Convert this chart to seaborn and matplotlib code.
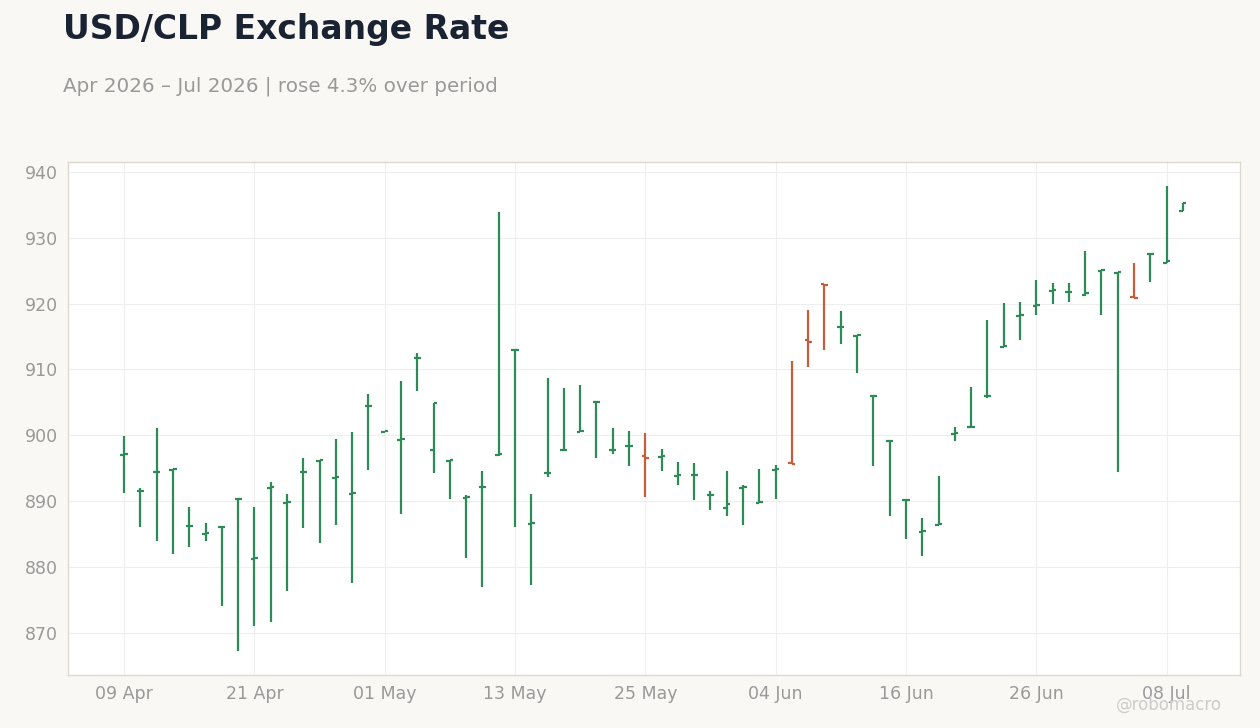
import numpy as np
import pandas as pd
import seaborn as sns
import matplotlib.pyplot as plt

# daily OHLC, business days from 09 Apr 2026
dates = pd.bdate_range('2026-04-09', periods=66)
opens = [897.0, 891.5, 894.4, 894.8, 886.2, 885.0, 886.0, 890.3, 881.2, 892.0,
         889.7, 894.4, 896.1, 893.5, 891.1, 904.4, 900.5, 899.3, 911.7, 897.7,
         896.1, 890.5, 892.1, 897.0, 912.9, 886.6, 894.2, 897.7, 900.5, 905.0,
         897.7, 898.3, 896.9, 896.7, 893.8, 893.9, 890.9, 888.9, 892.0, 889.7,
         894.8, 895.8, 914.4, 923.0, 916.4, 915.1, 905.9, 899.1, 890.1, 885.3,
         886.4, 900.2, 901.2, 905.9, 913.4, 918.1, 919.7, 921.9, 921.7, 921.3,
         925.0, 924.7, 921.0, 927.5, 926.2, 934.0]
highs = [899.9, 892.0, 901.1, 894.9, 889.1, 886.7, 886.1, 890.4, 889.1, 892.9,
         891.1, 896.6, 896.2, 899.5, 900.5, 906.3, 900.7, 908.3, 912.5, 904.9,
         896.2, 890.9, 894.6, 933.9, 913.0, 891.1, 908.7, 907.2, 907.7, 905.1,
         901.1, 900.7, 900.3, 897.9, 896.0, 895.8, 891.6, 894.6, 892.4, 894.9,
         895.5, 911.3, 919.0, 923.0, 918.9, 915.2, 906.0, 899.2, 890.2, 887.5,
         893.8, 901.3, 907.4, 917.5, 920.1, 920.3, 923.6, 923.1, 923.1, 928.0,
         925.1, 924.8, 926.1, 927.7, 937.9, 935.3]
lows = [891.3, 886.0, 884.0, 881.9, 883.0, 883.9, 874.1, 867.2, 871.0, 871.7,
        876.4, 885.9, 883.7, 886.4, 877.6, 894.8, 900.5, 888.0, 906.8, 894.3,
        890.4, 881.3, 877.0, 896.8, 886.0, 877.2, 893.6, 897.7, 900.5, 896.6,
        897.2, 895.4, 890.7, 894.6, 892.5, 890.1, 888.7, 887.7, 886.4, 889.7,
        890.4, 895.6, 910.4, 912.9, 913.9, 909.4, 895.4, 887.8, 884.3, 881.6,
        886.4, 899.1, 901.2, 905.7, 913.4, 914.4, 918.3, 919.9, 920.2, 921.2,
        918.2, 894.5, 920.8, 923.2, 926.2, 934.0]
closes = [897.2, 891.6, 894.5, 894.9, 886.3, 885.1, 886.1, 890.4, 881.3, 892.1,
          889.8, 894.5, 896.2, 893.6, 891.2, 904.5, 900.6, 899.4, 911.8, 904.9,
          896.2, 890.6, 892.2, 897.2, 913.0, 886.7, 894.3, 897.8, 900.6, 905.1,
          897.8, 898.4, 896.6, 896.8, 893.9, 894.0, 891.0, 889.6, 892.1, 889.8,
          894.9, 895.6, 914.2, 922.8, 916.5, 915.2, 906.0, 899.2, 890.2, 885.4,
          886.5, 900.3, 901.3, 906.0, 913.5, 918.2, 919.8, 922.0, 921.8, 921.6,
          925.1, 924.8, 920.8, 927.6, 926.5, 935.3]

df = pd.DataFrame({'date': dates, 'open': opens, 'high': highs,
                   'low': lows, 'close': closes})
df['i'] = np.arange(len(df))
up_col, down_col = '#2e8b57', '#c65d3b'
df['color'] = np.where(df['close'] >= df['open'], up_col, down_col)

sns.set_theme(style='whitegrid')
plt.rcParams['font.family'] = ['DejaVu Sans']

fig = plt.figure(figsize=(12.6, 7.28), dpi=100, facecolor='#f9f8f5')
ax = fig.add_axes([0.054, 0.0728, 0.930, 0.7047])
ax.set_facecolor('white')

# high-low bars with open (left) and close (right) ticks
w = 0.22
ax.vlines(df['i'], df['low'], df['high'], colors=df['color'], lw=1.6)
ax.hlines(df['open'], df['i'] - w, df['i'], colors=df['color'], lw=1.6)
ax.hlines(df['close'], df['i'], df['i'] + w, colors=df['color'], lw=1.6)

ax.set_xlim(-3.44, 68.5)
ax.set_ylim(863.6, 941.5)
ticks = np.arange(0, len(df), 8)
ax.set_xticks(ticks)
ax.set_xticklabels([dates[t].strftime('%d %b') for t in ticks])
ax.set_yticks(np.arange(870, 941, 10))

ax.grid(True, color='#eeeeee', lw=0.8)
for s in ax.spines.values():
    s.set_color('#ddd8d0')
    s.set_linewidth(1)
ax.tick_params(axis='both', colors='#aaaaaa', labelsize=12.5, length=4,
               width=0.8, labelcolor='#999999')
ax.set_xlabel('')
ax.set_ylabel('')

pct = (closes[-1] / opens[0] - 1) * 100
fig.text(0.05, 0.982, 'USD/CLP Exchange Rate', fontsize=23.8, fontweight='bold',
         color='#1a2332', va='top', ha='left')
fig.text(0.05, 0.895, f'Apr 2026 – Jul 2026 | rose {pct:.1f}% over period',
         fontsize=14.3, color='#999999', va='top', ha='left')
fig.text(0.97, 0.032, '@robomacro', fontsize=12, color='#cccccc',
         ha='right', va='center')

plt.savefig('out.png', dpi=100, facecolor=fig.get_facecolor())
